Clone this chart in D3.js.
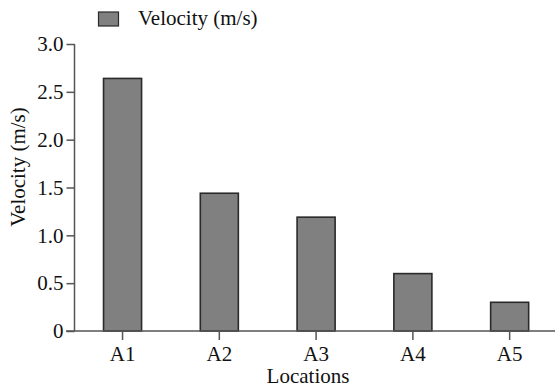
<!DOCTYPE html>
<html><head><meta charset="utf-8">
<script src="https://cdn.jsdelivr.net/npm/d3@7"></script>
</head><body style="margin:0"><svg id="c" width="555" height="390"></svg>
<script>
const categories = ["A1","A2","A3","A4","A5"];
const velocity = [2.64, 1.44, 1.19, 0.60, 0.30];
const yTicks = [0, 0.5, 1.0, 1.5, 2.0, 2.5, 3.0];
const seriesName = "Velocity (m/s)";

const fontNames = ["Liberation", "Serif"];
const FONT = `'${fontNames.join(" ")}'`;
const svg = d3.select("#c");
const axisColor = "#555";
const fs = 21;
const x = d3.scaleBand().domain(categories).range([74.5, 557.7]).paddingInner(0.607).paddingOuter(0.3);
const y = d3.scaleLinear().domain([0, 3]).range([331, 44]);

function tx(sel) { return sel.attr("font-size", fs).style("font-family", FONT).attr("fill", "#111"); }

// bars
svg.append("g").selectAll("rect").data(velocity).join("rect")
  .attr("x", (d,i) => x(categories[i]))
  .attr("y", d => y(d))
  .attr("width", x.bandwidth())
  .attr("height", d => y(0) - y(d))
  .attr("fill", "#808080").attr("stroke", "#2a2a2a").attr("stroke-width", 1.6);

// y axis
const ya = svg.append("g").attr("transform", "translate(74.5,0)")
  .call(d3.axisLeft(y).tickValues(yTicks).tickSize(8).tickPadding(3)
    .tickFormat(d => d === 0 ? "0" : d3.format(".1f")(d)));
ya.select(".domain").attr("stroke", axisColor).attr("stroke-width", 1.5).attr("d", `M0,${y(3)}V${y(0)}`);
ya.selectAll(".tick line").attr("stroke", axisColor).attr("stroke-width", 1.5);
tx(ya.selectAll("text"));

// x axis
const xa = svg.append("g").attr("transform", `translate(0,${y(0)})`)
  .call(d3.axisBottom(x).tickSize(9).tickSizeOuter(0).tickPadding(6));
xa.select(".domain").attr("stroke", axisColor).attr("stroke-width", 1.5).attr("d", "M66,0H555");
xa.selectAll(".tick line").attr("stroke", axisColor).attr("stroke-width", 1.5);
tx(xa.selectAll("text"));

// axis titles
tx(svg.append("text").attr("x", 308).attr("y", 383).attr("text-anchor", "middle")).text("Locations");
tx(svg.append("text").attr("transform", "translate(25,167) rotate(-90)").attr("text-anchor", "middle")).text(seriesName);

// legend
const lg = svg.append("g");
lg.append("rect").attr("x", 98.5).attr("y", 12).attr("width", 20).attr("height", 14)
  .attr("fill", "#808080").attr("stroke", "#2a2a2a").attr("stroke-width", 1.2);
tx(lg.append("text").attr("x", 138).attr("y", 25)).text(seriesName);
</script></body></html>
